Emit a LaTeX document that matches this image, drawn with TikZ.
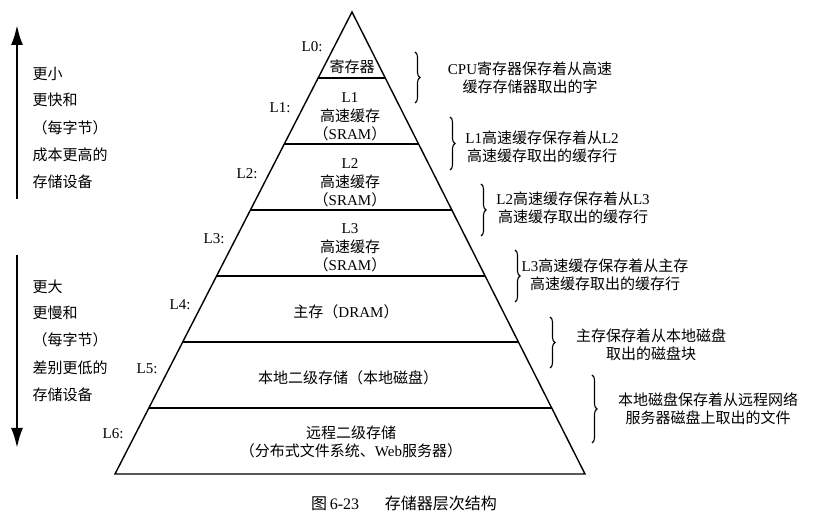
\documentclass[tikz,border=0pt]{standalone}
\usepackage{fontspec}
\setmainfont{Liberation Serif}
\newfontfamily\cjk{Noto Sans CJK SC}
\usetikzlibrary{arrows.meta,calc,decorations.pathreplacing}
\newcommand{\en}[1]{{\rmfamily #1}}

\tikzset{
  every node/.style={font=\cjk\fontsize{15}{18.5}\selectfont, inner sep=0pt},
  lvl/.style={align=center},
  tag/.style={font=\rmfamily\fontsize{15}{17}\selectfont},
  note/.style={align=center, font=\cjk\fontsize{15}{18}\selectfont},
  side/.style={anchor=west},
  curly/.style={decorate, decoration={brace, amplitude=5pt}, line width=1.1pt},
  bigarrow/.style={-{Latex[length=20pt,width=12pt]}, line width=2.5pt},
}

\begin{document}
\begin{tikzpicture}[x=1pt, y=-1pt, line width=1.4pt]
\useasboundingbox (0,0) rectangle (831,529);

% pyramid
\coordinate (top) at (352,12);
\coordinate (bl) at (115,474);
\coordinate (br) at (585,474);
\draw (top) -- (bl) -- (br) -- cycle;
\foreach \k in {1,...,6}
  \draw ($(top)!\k/7!(bl)$) -- ($(top)!\k/7!(br)$);

% level tags
\node[tag] (l0) at (312,47) {L0:};
\node[tag] (l1) at (280,108) {L1:};
\node[tag] (l2) at (247,174) {L2:};
\node[tag] (l3) at (214,239) {L3:};
\node[tag] (l4) at (180,305) {L4:};
\node[tag] (l5) at (147,369) {L5:};
\node[tag] (l6) at (113,434) {L6:};

% level contents
\node (reg) at (352,67) {寄存器};
\node[lvl] (sram1) at (350,117) {\en{L1}\\高速缓存\\（\en{SRAM}）};
\node[lvl] (sram2) at (350,183) {\en{L2}\\高速缓存\\（\en{SRAM}）};
\node[lvl] (sram3) at (350,248) {\en{L3}\\高速缓存\\（\en{SRAM}）};
\node (dram) at (346,312) {主存（\en{DRAM}）};
\node (disk) at (348,378) {本地二级存储（本地磁盘）};
\node[lvl] (remote) at (351,442) {远程二级存储\\（分布式文件系统、\en{Web}服务器）};

% braces and notes
\coordinate (b1t) at (415,52); \coordinate (b1b) at (415,103);
\draw[curly] (b1t) -- (b1b);
\node[note] (n1) at (530,78) {\en{CPU}寄存器保存着从高速\\缓存存储器取出的字};

\coordinate (b2t) at (450,117); \coordinate (b2b) at (450,170);
\draw[curly] (b2t) -- (b2b);
\node[note] (n2) at (542,147) {\en{L1}高速缓存保存着从\en{L2}\\高速缓存取出的缓存行};

\coordinate (b3t) at (481,184); \coordinate (b3b) at (481,236);
\draw[curly] (b3t) -- (b3b);
\node[note] (n3) at (573,208) {\en{L2}高速缓存保存着从\en{L3}\\高速缓存取出的缓存行};

\coordinate (b4t) at (515,250); \coordinate (b4b) at (515,302);
\draw[curly] (b4t) -- (b4b);
\node[note] (n4) at (605,275) {\en{L3}高速缓存保存着从主存\\高速缓存取出的缓存行};

\coordinate (b5t) at (550,317); \coordinate (b5b) at (550,368);
\draw[curly] (b5t) -- (b5b);
\node[note] (n5) at (651,345) {主存保存着从本地磁盘\\取出的磁盘块};

\coordinate (b6t) at (592,375); \coordinate (b6b) at (592,443);
\draw[curly] (b6t) -- (b6b);
\node[note] (n6) at (708,409) {本地磁盘保存着从远程网络\\服务器磁盘上取出的文件};

% left arrows
\coordinate (up0) at (17,199); \coordinate (up1) at (17,25);
\draw[bigarrow] (up0) -- (up1);
\coordinate (dn0) at (17,255); \coordinate (dn1) at (17,448);
\draw[bigarrow] (dn0) -- (dn1);

\node[side] (s1) at (32,74) {更小};
\node[side] (s2) at (32,100) {更快和};
\node[side] (s3) at (32,128) {（每字节）};
\node[side] (s4) at (32,155) {成本更高的};
\node[side] (s5) at (32,182) {存储设备};

\node[side] (t1) at (32,287) {更大};
\node[side] (t2) at (32,313) {更慢和};
\node[side] (t3) at (32,340) {（每字节）};
\node[side] (t4) at (32,368) {差别更低的};
\node[side] (t5) at (32,395) {存储设备};

% caption
\node[font=\cjk\fontsize{16}{18}\selectfont] (cap) at (404,503) {图\,\en{6-23}\hspace{1.6em}存储器层次结构};
\end{tikzpicture}
\end{document}
